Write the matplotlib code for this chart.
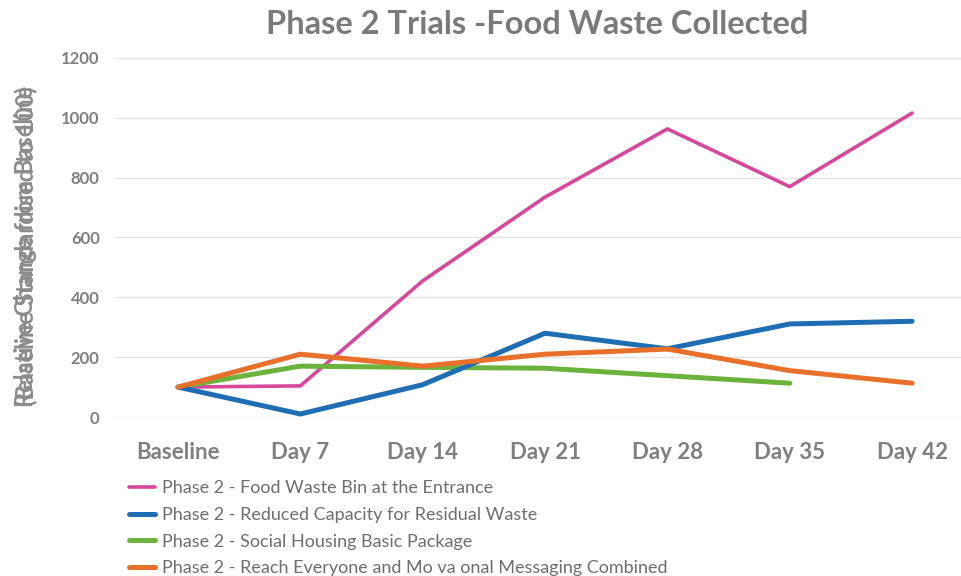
import matplotlib.pyplot as plt

plt.rcParams['font.family'] = ['Lato', 'DejaVu Sans']

days = ["Baseline", "Day 7", "Day 14", "Day 21", "Day 28", "Day 35", "Day 42"]
bin_entrance = [100, 104, 455, 735, 963, 770, 1016]
reduced_capacity = [100, 10, 108, 280, 228, 311, 320]
social_housing = [100, 170, 166, 163, 138, 113]
reach_everyone = [100, 210, 170, 210, 227, 155, 113]

labels = [
    "Phase 2 - Food Waste Bin at the Entrance",
    "Phase 2 - Reduced Capacity for Residual Waste",
    "Phase 2 - Social Housing Basic Package",
    "Phase 2 - Reach Everyone and Mo va onal Messaging Combined",
]
colors = ["#D6489A", "#1F6EB4", "#6CB33E", "#E8702A"]

gray = "#7F7F7F"

fig = plt.figure(figsize=(9.61, 5.76), dpi=100)
ax = fig.add_axes([115 / 961, 1 - 417 / 576, 846 / 961, 359 / 576])

x = list(range(len(days)))
h1, = ax.plot(x, bin_entrance, color=colors[0], lw=2.6, zorder=3, solid_capstyle='round')
h2, = ax.plot(x, reduced_capacity, color=colors[1], lw=3.6, zorder=4, solid_capstyle='round')
h3, = ax.plot(x[:len(social_housing)], social_housing, color=colors[2], lw=3.6, zorder=3.5,
              solid_capstyle='round')
h4, = ax.plot(x, reach_everyone, color=colors[3], lw=3.6, zorder=5, solid_capstyle='round')

ax.set_xlim(-0.515, 6.40)
ax.set_ylim(0, 1200)
ax.set_yticks(range(0, 1201, 200))
ax.set_xticks(x)
ax.set_xticklabels(days, fontsize=16, fontweight='bold', color=gray)
ax.tick_params(axis='y', labelsize=12, labelcolor=gray, length=0, pad=11)
ax.tick_params(axis='x', length=0, pad=18)
for lbl in ax.get_yticklabels():
    lbl.set_fontweight('bold')

ax.grid(axis='y', color="#E3E3E3", lw=1)
ax.set_axisbelow(True)
for s in ax.spines.values():
    s.set_visible(False)

fig.text(537 / 961, 1 - 25 / 576, "Phase 2 Trials -Food Waste Collected", ha='center', va='center',
         fontsize=23.5, fontweight='bold', color="#7A7A7A")

# two overlapping axis titles, as in the source
for txt in ["Relative Change from Baseline", "(Baseline Standardised to 100)"]:
    fig.text(26 / 961, 1 - 246 / 576, txt, rotation=90, ha='center', va='center',
             fontsize=17, fontweight='bold', color="#8C8C8C")

fig.legend([h1, h2, h3, h4], labels, loc='upper left', bbox_to_anchor=(129 / 961, 1 - 480 / 576),
           frameon=False, fontsize=13, labelcolor="#6E6E6E", handlelength=1.45, handletextpad=0.4,
           labelspacing=0.6, borderaxespad=0, borderpad=0)

fig.savefig("out.png", dpi=100)
